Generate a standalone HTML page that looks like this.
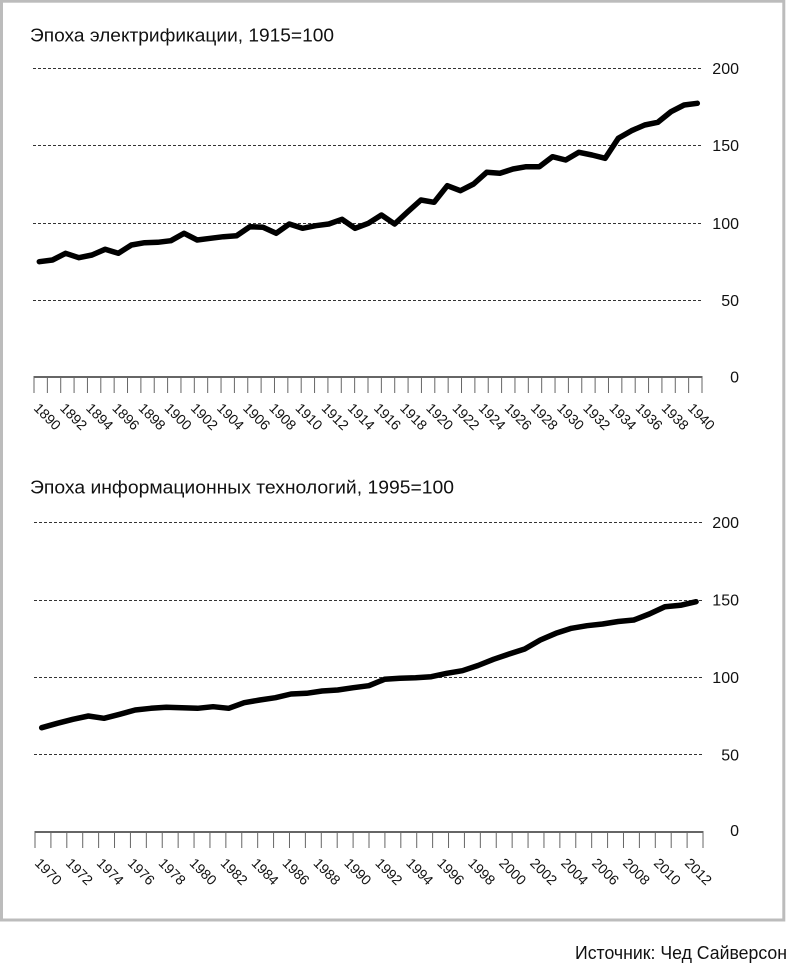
<!DOCTYPE html>
<html><head><meta charset="utf-8"><style>
html,body{margin:0;padding:0;background:#fff;}
svg{display:block;}
text{font-family:"Liberation Sans","DejaVu Sans",sans-serif;fill:#111;}
</style></head><body>
<svg width="790" height="968" viewBox="0 0 790 968" xmlns="http://www.w3.org/2000/svg">
<rect x="0" y="0" width="790" height="968" fill="#fff"/>
<rect x="1.5" y="1.2" width="782.3" height="918.8" fill="none" stroke="#bcbcbc" stroke-width="3"/>

<!-- TOP CHART -->
<text x="30" y="41.5" font-size="18" textLength="304" lengthAdjust="spacingAndGlyphs">Эпоха электрификации, 1915=100</text>
<g stroke="#333" stroke-width="1" stroke-dasharray="3,2">
<line x1="33" y1="68.5" x2="702" y2="68.5"/>
<line x1="33" y1="145.5" x2="702" y2="145.5"/>
<line x1="33" y1="223.5" x2="702" y2="223.5"/>
<line x1="33" y1="300.5" x2="702" y2="300.5"/>
</g>
<line x1="33.5" y1="377" x2="702.5" y2="377" stroke="#333" stroke-width="1.5"/>
<line x1="33.5" y1="385" x2="702.5" y2="385" stroke="#666" stroke-width="16" stroke-dasharray="1,12.36"/>
<g font-size="16" text-anchor="end">
<text x="739" y="74">200</text>
<text x="739" y="151">150</text>
<text x="739" y="229">100</text>
<text x="739" y="306">50</text>
<text x="739" y="382.5">0</text>
</g>
<polyline fill="none" stroke="#000" stroke-width="5.5" stroke-linejoin="round" stroke-linecap="round" points="39.3,261.7 52.5,260 65.6,253.3 78.8,257.7 92,255 105.1,249.3 118.3,253.3 131.4,245 144.6,242.7 157.7,242.3 170.9,240.7 184.1,233.3 197.2,240 210.4,238.3 223.5,236.7 236.7,235.7 249.9,226.7 263,227.3 276.2,233.3 289.3,224 302.5,228.3 315.7,225.7 328.8,224 342,219.3 355.1,228.3 368.3,223.3 381.5,215 394.6,224 407.8,211.7 420.9,200 434.1,202.3 447.3,185.7 460.4,190.7 473.6,184 486.7,172.3 499.9,173.3 513,169 526.2,166.7 539.4,166.7 552.5,156.7 565.7,160 578.9,152.3 592,155 605.2,158.3 618.3,138.3 631.5,130.7 644.7,125 657.8,122.3 671,111.7 684.1,105 697.3,103.3"/>
<g font-size="14">
<text transform="translate(33,409) rotate(45)">1890</text>
<text transform="translate(59.2,409) rotate(45)">1892</text>
<text transform="translate(85.3,409) rotate(45)">1894</text>
<text transform="translate(111.5,409) rotate(45)">1896</text>
<text transform="translate(137.6,409) rotate(45)">1898</text>
<text transform="translate(163.8,409) rotate(45)">1900</text>
<text transform="translate(190,409) rotate(45)">1902</text>
<text transform="translate(216.1,409) rotate(45)">1904</text>
<text transform="translate(242.3,409) rotate(45)">1906</text>
<text transform="translate(268.4,409) rotate(45)">1908</text>
<text transform="translate(294.6,409) rotate(45)">1910</text>
<text transform="translate(320.8,409) rotate(45)">1912</text>
<text transform="translate(346.9,409) rotate(45)">1914</text>
<text transform="translate(373.1,409) rotate(45)">1916</text>
<text transform="translate(399.2,409) rotate(45)">1918</text>
<text transform="translate(425.4,409) rotate(45)">1920</text>
<text transform="translate(451.6,409) rotate(45)">1922</text>
<text transform="translate(477.7,409) rotate(45)">1924</text>
<text transform="translate(503.9,409) rotate(45)">1926</text>
<text transform="translate(530,409) rotate(45)">1928</text>
<text transform="translate(556.2,409) rotate(45)">1930</text>
<text transform="translate(582.4,409) rotate(45)">1932</text>
<text transform="translate(608.5,409) rotate(45)">1934</text>
<text transform="translate(634.7,409) rotate(45)">1936</text>
<text transform="translate(660.8,409) rotate(45)">1938</text>
<text transform="translate(687,409) rotate(45)">1940</text>
</g>

<!-- BOTTOM CHART -->
<text x="30" y="493.5" font-size="18" textLength="424" lengthAdjust="spacingAndGlyphs">Эпоха информационных технологий, 1995=100</text>
<g stroke="#333" stroke-width="1" stroke-dasharray="3,2">
<line x1="34" y1="522.5" x2="703" y2="522.5"/>
<line x1="34" y1="600.5" x2="703" y2="600.5"/>
<line x1="34" y1="677.5" x2="703" y2="677.5"/>
<line x1="34" y1="754.5" x2="703" y2="754.5"/>
</g>
<line x1="34.5" y1="832" x2="703.5" y2="832" stroke="#333" stroke-width="1.5"/>
<line x1="34.5" y1="840" x2="703.5" y2="840" stroke="#666" stroke-width="16" stroke-dasharray="1,14.905"/>
<g font-size="16" text-anchor="end">
<text x="739" y="528">200</text>
<text x="739" y="605.5">150</text>
<text x="739" y="683">100</text>
<text x="739" y="760.5">50</text>
<text x="739" y="836">0</text>
</g>
<polyline fill="none" stroke="#000" stroke-width="5.5" stroke-linejoin="round" stroke-linecap="round" points="41.7,727.7 57.3,723.3 72.9,719.3 88.4,716 104,718.3 119.6,714.3 135.2,710 150.8,708.3 166.3,707.3 181.9,707.7 197.5,708.3 213.1,706.7 228.7,708.3 244.2,702.7 259.8,700 275.4,697.7 291,694 306.6,693.3 322.1,691 337.7,690 353.3,687.7 368.9,685.7 384.5,679.3 400,678.3 415.6,677.7 431.2,676.7 446.8,673.3 462.4,670.7 478,665.5 493.5,659.3 509.1,654 524.7,649 540.3,640 555.9,633.3 571.4,628.3 587,625.7 602.6,624 618.2,621.5 633.8,620 649.3,614 664.9,606.7 680.5,605.3 696.1,601.7"/>
<g font-size="14">
<text transform="translate(34,864) rotate(45)">1970</text>
<text transform="translate(65,864) rotate(45)">1972</text>
<text transform="translate(95.9,864) rotate(45)">1974</text>
<text transform="translate(126.9,864) rotate(45)">1976</text>
<text transform="translate(157.8,864) rotate(45)">1978</text>
<text transform="translate(188.8,864) rotate(45)">1980</text>
<text transform="translate(219.7,864) rotate(45)">1982</text>
<text transform="translate(250.7,864) rotate(45)">1984</text>
<text transform="translate(281.6,864) rotate(45)">1986</text>
<text transform="translate(312.6,864) rotate(45)">1988</text>
<text transform="translate(343.5,864) rotate(45)">1990</text>
<text transform="translate(374.5,864) rotate(45)">1992</text>
<text transform="translate(405.4,864) rotate(45)">1994</text>
<text transform="translate(436.4,864) rotate(45)">1996</text>
<text transform="translate(467.3,864) rotate(45)">1998</text>
<text transform="translate(498.3,864) rotate(45)">2000</text>
<text transform="translate(529.2,864) rotate(45)">2002</text>
<text transform="translate(560.2,864) rotate(45)">2004</text>
<text transform="translate(591.1,864) rotate(45)">2006</text>
<text transform="translate(622.1,864) rotate(45)">2008</text>
<text transform="translate(653,864) rotate(45)">2010</text>
<text transform="translate(684,864) rotate(45)">2012</text>
</g>

<text x="575" y="959" font-size="18" textLength="212" lengthAdjust="spacingAndGlyphs">Источник: Чед Сайверсон</text>
</svg>
</body></html>
